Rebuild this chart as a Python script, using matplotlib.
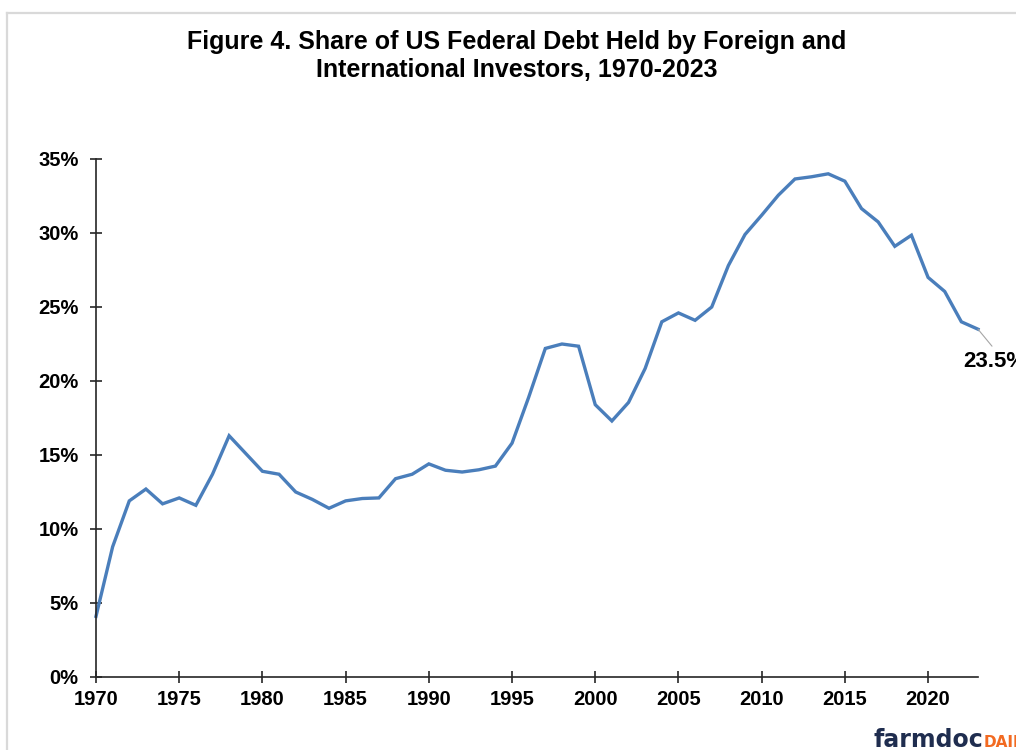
import matplotlib
matplotlib.use("Agg")
import matplotlib.pyplot as plt
from matplotlib.lines import Line2D
from matplotlib.ticker import FuncFormatter, MultipleLocator

years = list(range(1970, 2024))
share = [4.1, 8.8, 11.9, 12.7, 11.7, 12.1, 11.6, 13.7, 16.3, 15.1,
         13.9, 13.7, 12.5, 12.0, 11.4, 11.9, 12.06, 12.1, 13.4, 13.7,
         14.4, 13.97, 13.85, 14.0, 14.25, 15.8, 18.9, 22.2, 22.5, 22.35,
         18.4, 17.3, 18.55, 20.85, 24.0, 24.6, 24.1, 25.0, 27.8, 29.9,
         31.2, 32.55, 33.65, 33.8, 34.0, 33.5, 31.65, 30.75, 29.1, 29.85,
         27.0, 26.05, 24.0, 23.5]
title_text = "Figure 4. Share of US Federal Debt Held by Foreign and\nInternational Investors, 1970-2023"

plt.rcParams['font.family'] = ['Liberation Sans', 'DejaVu Sans']
plt.rcParams['font.weight'] = 'bold'

W, H = 1016, 750
fig = plt.figure(figsize=(W / 100, H / 100), dpi=100)
fig.patch.set_facecolor('white')

ax = fig.add_axes([96 / W, (H - 677) / H, (978 - 96) / W, (677 - 159) / H])
ax.plot(years, share, color='#4a7ebb', lw=2.4, solid_joinstyle='miter', clip_on=False)

ax.set_xlim(1970, 2023)
ax.set_ylim(0, 35)
ax.xaxis.set_major_locator(MultipleLocator(5))
ax.yaxis.set_major_locator(MultipleLocator(5))
ax.yaxis.set_major_formatter(FuncFormatter(lambda v, p: f"{v:.0f}%"))

for s in ['top', 'right']:
    ax.spines[s].set_visible(False)
for s in ['left', 'bottom']:
    ax.spines[s].set_color('#262626')
    ax.spines[s].set_linewidth(1.2)

ax.tick_params(axis='both', direction='inout', length=9, width=1.2, color='#262626',
               labelsize=14.5, labelcolor='black')
ax.tick_params(axis='x', pad=5)
ax.tick_params(axis='y', pad=8)
for lab in ax.get_xticklabels() + ax.get_yticklabels():
    lab.set_fontweight('bold')

# end-point label with leader line
ax.annotate('', xy=(years[-1], share[-1]), xytext=(14, -17), textcoords='offset pixels',
            arrowprops=dict(arrowstyle='-', color='#a6a6a6', lw=0.8, shrinkA=0, shrinkB=0),
            annotation_clip=False)
ax.annotate(f"{share[-1]:.1f}%", xy=(years[-1], share[-1]), xytext=(-15, -32),
            textcoords='offset pixels', ha='left', va='center', fontsize=16,
            fontweight='bold', color='black', annotation_clip=False)

# title
fig.text(517 / W, (H - 56) / H, title_text, ha='center', va='center', fontsize=18,
         fontweight='bold', linespacing=1.18, color='black')

# outer light border (top and left)
fig.add_artist(Line2D([7 / W, 1.0], [(H - 13) / H, (H - 13) / H], transform=fig.transFigure,
                      color='#d9d9d9', lw=1.6))
fig.add_artist(Line2D([7 / W, 7 / W], [0, (H - 13) / H], transform=fig.transFigure,
                      color='#d9d9d9', lw=1.6))

# logo
t1 = fig.text(873 / W, (H - 747) / H, "farmdoc", ha='left', va='baseline', fontsize=17,
              fontweight='bold', color='#1f2d4f', family=['DejaVu Sans'])
renderer = fig.canvas.get_renderer()
bb = t1.get_window_extent(renderer=renderer)
fig.text(bb.x1 / W + 1 / W, (H - 747) / H, "DAILY", ha='left', va='baseline', fontsize=11,
         fontweight='bold', color='#f26a21', family=['DejaVu Sans'])

fig.savefig('out.png', dpi=100, facecolor='white')
